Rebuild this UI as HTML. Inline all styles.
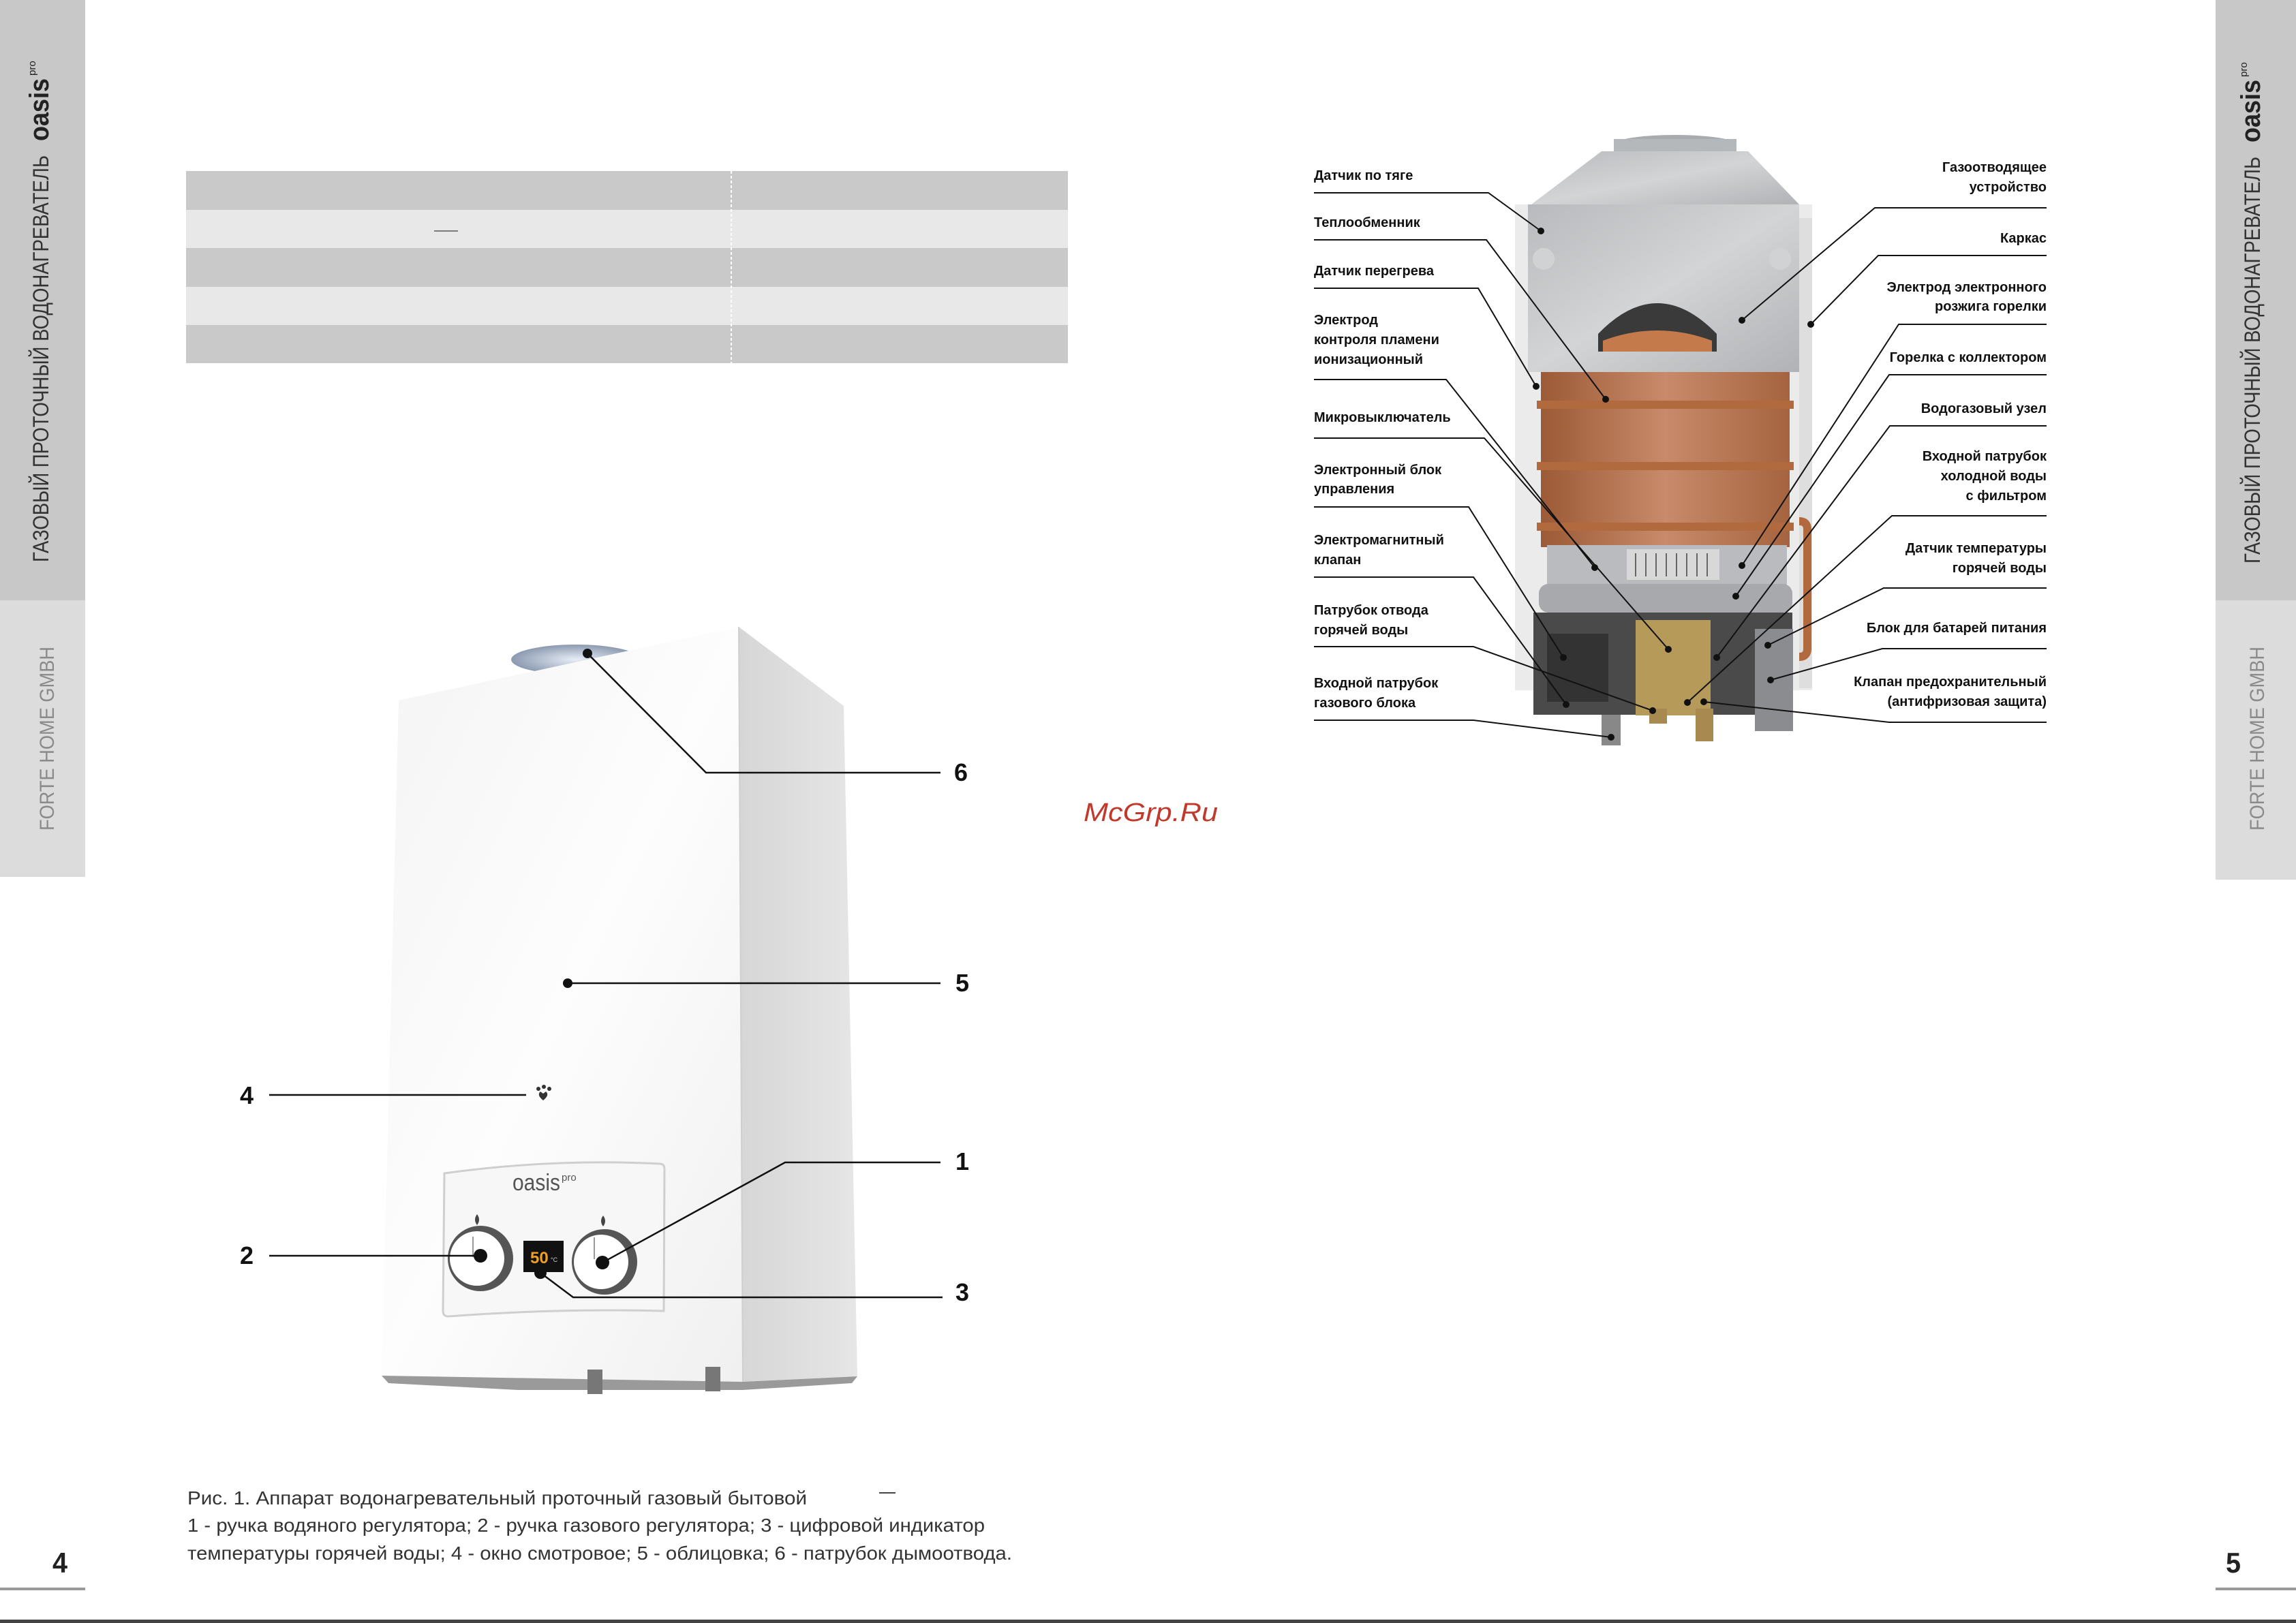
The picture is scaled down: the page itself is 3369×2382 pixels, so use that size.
<!DOCTYPE html>
<html><head><meta charset="utf-8"><style>
html,body{margin:0;padding:0;background:#fff}
svg{display:block}
</style></head><body>
<svg width="3369" height="2382" viewBox="0 0 3369 2382" xmlns="http://www.w3.org/2000/svg" font-family="'Liberation Sans','DejaVu Sans',sans-serif">
<defs>
<linearGradient id="front" x1="0" y1="0" x2="1" y2="1">
<stop offset="0" stop-color="#f4f4f4"/><stop offset="0.5" stop-color="#fdfdfd"/><stop offset="1" stop-color="#f0f0f0"/>
</linearGradient>
<linearGradient id="side" x1="0" y1="0" x2="1" y2="0">
<stop offset="0" stop-color="#d6d6d6"/><stop offset="1" stop-color="#e6e6e6"/>
</linearGradient>
<linearGradient id="copper" x1="0" y1="0" x2="1" y2="0">
<stop offset="0" stop-color="#9c5a36"/><stop offset="0.5" stop-color="#c88a6a"/><stop offset="1" stop-color="#a5643f"/>
</linearGradient>
<linearGradient id="steel" x1="0" y1="0" x2="1" y2="1">
<stop offset="0" stop-color="#b8babd"/><stop offset="0.5" stop-color="#d2d4d6"/><stop offset="1" stop-color="#b0b2b5"/>
</linearGradient>
<radialGradient id="flue" cx="0.5" cy="0.5" r="0.5">
<stop offset="0" stop-color="#e8eef8"/><stop offset="1" stop-color="#8c9ab0"/>
</radialGradient>
</defs>

<!-- sidebars -->
<rect x="0" y="0" width="125" height="881" fill="#c8c8c8"/>
<rect x="0" y="881" width="125" height="406" fill="#dcdcdc"/>
<rect x="3251" y="0" width="118" height="881" fill="#c8c8c8"/>
<rect x="3251" y="881" width="118" height="410" fill="#dcdcdc"/>

<g transform="rotate(-90 71 825)"><text x="71" y="825" font-size="32" fill="#333" textLength="597" lengthAdjust="spacingAndGlyphs">ГАЗОВЫЙ ПРОТОЧНЫЙ ВОДОНАГРЕВАТЕЛЬ</text>
<text x="689" y="825" font-size="40" font-weight="bold" fill="#222" textLength="92" lengthAdjust="spacingAndGlyphs">oasis</text>
<text x="785" y="806" font-size="15" fill="#222">pro</text></g>
<g transform="rotate(-90 79 1219)"><text x="79" y="1219" font-size="30" fill="#8a8a8a" textLength="270" lengthAdjust="spacingAndGlyphs">FORTE HOME GMBH</text></g>

<g transform="rotate(-90 3316 827)"><text x="3316" y="827" font-size="32" fill="#333" textLength="597" lengthAdjust="spacingAndGlyphs">ГАЗОВЫЙ ПРОТОЧНЫЙ ВОДОНАГРЕВАТЕЛЬ</text>
<text x="3934" y="827" font-size="40" font-weight="bold" fill="#222" textLength="92" lengthAdjust="spacingAndGlyphs">oasis</text>
<text x="4030" y="808" font-size="15" fill="#222">pro</text></g>
<g transform="rotate(-90 3322 1219)"><text x="3322" y="1219" font-size="30" fill="#8a8a8a" textLength="270" lengthAdjust="spacingAndGlyphs">FORTE HOME GMBH</text></g>

<!-- page numbers -->
<text x="77" y="2308" font-size="42" font-weight="bold" fill="#222" textLength="22" lengthAdjust="spacingAndGlyphs">4</text>
<rect x="0" y="2330" width="125" height="4" fill="#999"/>
<text x="3266" y="2308" font-size="42" font-weight="bold" fill="#222" textLength="22" lengthAdjust="spacingAndGlyphs">5</text>
<rect x="3251" y="2330" width="118" height="4" fill="#999"/>
<rect x="0" y="2377" width="3369" height="5" fill="#444"/>

<!-- table -->
<rect x="273" y="251" width="1294" height="57" fill="#c9c9c9"/>
<rect x="273" y="308" width="1294" height="56" fill="#e8e8e8"/>
<rect x="273" y="364" width="1294" height="57" fill="#c9c9c9"/>
<rect x="273" y="421" width="1294" height="56" fill="#e8e8e8"/>
<rect x="273" y="477" width="1294" height="56" fill="#c9c9c9"/>
<line x1="1073" y1="251" x2="1073" y2="533" stroke="#fff" stroke-width="2" stroke-dasharray="4,3"/>
<line x1="637" y1="339" x2="672" y2="339" stroke="#555" stroke-width="1.5"/>

<!-- heater front view -->
<ellipse cx="845" cy="968" rx="95" ry="22" fill="url(#flue)"/>
<polygon points="1084,920 1238,1036 1258,2020 1090,2028" fill="url(#side)"/>
<polygon points="585,1028 1084,920 1090,2028 560,2019" fill="url(#front)"/>
<polygon points="560,2019 1090,2028 1258,2020 1250,2030 1090,2040 760,2040 570,2030" fill="#9a9a9a"/>
<rect x="862" y="2010" width="22" height="36" fill="#777"/>
<rect x="1035" y="2006" width="22" height="36" fill="#777"/>
<line x1="1084" y1="920" x2="1090" y2="2028" stroke="#cfcfcf" stroke-width="2"/>

<!-- control panel -->
<path d="M652,1722 Q810,1700 968,1708 Q975,1708 975,1716 L974,1924 Q820,1920 658,1932 Q650,1932 650,1924 Z" fill="#f7f7f7" stroke="#cfcfcf" stroke-width="3"/>
<text x="752" y="1747" font-size="34" fill="#555" textLength="70" lengthAdjust="spacingAndGlyphs">oasis</text>
<text x="824" y="1733" font-size="15" fill="#555">pro</text>
<circle cx="705" cy="1847" r="48" fill="#555"/>
<circle cx="700" cy="1847" r="40" fill="#fff"/>
<line x1="694" y1="1815" x2="694" y2="1845" stroke="#999" stroke-width="2"/>
<circle cx="887" cy="1852" r="48" fill="#555"/>
<circle cx="882" cy="1852" r="40" fill="#fff"/>
<line x1="872" y1="1816" x2="872" y2="1848" stroke="#999" stroke-width="2"/>
<path d="M700,1798 q-6,-8 0,-16 q6,8 0,16z" fill="#444"/>
<path d="M885,1800 q-6,-8 0,-16 q6,8 0,16z" fill="#444"/>
<rect x="768" y="1821" width="59" height="46" fill="#111"/>
<text x="778" y="1854" font-size="24" font-weight="bold" fill="#f0a020">50</text>
<text x="808" y="1852" font-size="9" fill="#ccc">°C</text>

<!-- sight window icon -->
<circle cx="790" cy="1598" r="3" fill="#333"/><circle cx="798" cy="1595" r="3" fill="#333"/><circle cx="806" cy="1598" r="3" fill="#333"/>
<path d="M797,1615 q-10,-8 -4,-13 q4,3 4,3 q0,0 4,-3 q6,5 -4,13z" fill="#333"/>

<!-- callouts left -->
<g stroke="#111" stroke-width="2.5" fill="none">
<polyline points="862,959 1036,1134 1380,1134"/>
<line x1="833" y1="1443" x2="1380" y2="1443"/>
<line x1="395" y1="1607" x2="772" y2="1607"/>
<polyline points="884,1853 1152,1706 1380,1706"/>
<line x1="395" y1="1843" x2="705" y2="1843"/>
<polyline points="793,1868 841,1904 1383,1904"/>
</g>
<g fill="#111"><circle cx="862" cy="959" r="7"/><circle cx="833" cy="1443" r="7"/><circle cx="705" cy="1843" r="10"/><circle cx="884" cy="1853" r="10"/><circle cx="793" cy="1868" r="9"/></g>
<g font-size="36" font-weight="bold" fill="#111">
<text x="1400" y="1146">6</text>
<text x="1402" y="1455">5</text>
<text x="352" y="1620">4</text>
<text x="1402" y="1717">1</text>
<text x="352" y="1855">2</text>
<text x="1402" y="1909">3</text>
</g>

<!-- caption -->
<g font-size="28" fill="#333">
<text x="275" y="2208" textLength="909" lengthAdjust="spacingAndGlyphs">Рис. 1.  Аппарат водонагревательный проточный газовый бытовой</text>
<text x="275" y="2248" textLength="1170" lengthAdjust="spacingAndGlyphs">1 - ручка водяного регулятора; 2 - ручка газового регулятора; 3 - цифровой индикатор</text>
<text x="275" y="2289" textLength="1210" lengthAdjust="spacingAndGlyphs">температуры горячей воды; 4 - окно смотровое; 5 - облицовка; 6 - патрубок дымоотвода.</text>
</g>
<line x1="1290" y1="2191" x2="1314" y2="2191" stroke="#444" stroke-width="2"/>

<!-- watermark -->
<text x="1590" y="1205" font-size="38" font-style="italic" fill="#c0392b" textLength="197" lengthAdjust="spacingAndGlyphs">McGrp.Ru</text>

<!-- heater internals -->
<rect x="2223" y="300" width="436" height="713" fill="#ebebeb"/>
<rect x="2640" y="320" width="19" height="690" fill="#dedede"/>
<ellipse cx="2458" cy="212" rx="90" ry="14" fill="#a9acaf"/>
<rect x="2368" y="204" width="180" height="20" fill="#b5b8bb"/>
<polygon points="2350,222 2565,222 2640,300 2247,300" fill="url(#steel)"/>
<rect x="2242" y="300" width="398" height="246" fill="url(#steel)"/>
<path d="M2345,516 L2345,490 Q2432,400 2519,490 L2519,516 Z" fill="#3a3a3a"/>
<path d="M2352,516 L2352,500 Q2432,470 2512,500 L2512,516 Z" fill="#c47a4a"/>
<circle cx="2265" cy="380" r="16" fill="#d0d2d4"/><circle cx="2612" cy="380" r="16" fill="#d0d2d4"/>
<rect x="2261" y="546" width="365" height="257" fill="url(#copper)"/>
<g stroke="#b06a3e" stroke-width="12" fill="none">
<line x1="2255" y1="594" x2="2632" y2="594"/><line x1="2255" y1="684" x2="2632" y2="684"/><line x1="2255" y1="773" x2="2632" y2="773"/>
</g>
<path d="M2640,765 q12,0 12,12 l0,175 q0,12 -12,12" stroke="#b06a3e" stroke-width="12" fill="none"/>
<rect x="2270" y="800" width="352" height="70" fill="#b9bbbe"/>
<rect x="2387" y="806" width="136" height="45" fill="#d8d8d8"/>
<g stroke="#666" stroke-width="2"><line x1="2400" y1="812" x2="2400" y2="846"/><line x1="2415" y1="812" x2="2415" y2="846"/><line x1="2430" y1="812" x2="2430" y2="846"/><line x1="2445" y1="812" x2="2445" y2="846"/><line x1="2460" y1="812" x2="2460" y2="846"/><line x1="2475" y1="812" x2="2475" y2="846"/><line x1="2490" y1="812" x2="2490" y2="846"/><line x1="2505" y1="812" x2="2505" y2="846"/></g>
<rect x="2258" y="857" width="372" height="42" rx="14" fill="#a7a9ac"/>
<rect x="2250" y="899" width="380" height="150" fill="#4a4a4a"/>
<rect x="2400" y="910" width="110" height="140" fill="#b59a5a"/>
<rect x="2575" y="923" width="56" height="150" fill="#8a8c8f"/>
<rect x="2270" y="930" width="90" height="100" fill="#333"/>
<rect x="2350" y="1049" width="28" height="45" fill="#888"/>
<rect x="2420" y="1040" width="26" height="22" fill="#a88a50"/>
<rect x="2488" y="1040" width="26" height="48" fill="#a88a50"/>

<!-- callouts right page -->
<g stroke="#111" stroke-width="2" fill="none">
<polyline points="1928,283 2184,283 2261,339"/>
<polyline points="1928,352 2181,352 2356,586"/>
<polyline points="1928,423 2169,423 2254,567"/>
<polyline points="1928,557 2122,557 2340,833"/>
<polyline points="1928,643 2178,643 2448,953"/>
<polyline points="1928,744 2155,744 2294,965"/>
<polyline points="1928,847 2162,847 2298,1034"/>
<polyline points="1928,949 2162,949 2425,1043"/>
<polyline points="1928,1057 2162,1057 2364,1082"/>
<polyline points="3003,305 2751,305 2556,470"/>
<polyline points="3003,375 2756,375 2657,476"/>
<polyline points="3003,476 2786,476 2556,830"/>
<polyline points="3003,550 2772,550 2547,875"/>
<polyline points="3003,625 2773,625 2519,965"/>
<polyline points="3003,757 2776,757 2476,1031"/>
<polyline points="3003,863 2764,863 2594,947"/>
<polyline points="3003,952 2762,952 2598,998"/>
<polyline points="3003,1060 2772,1060 2500,1030"/>
</g>
<g fill="#111">
<circle cx="2261" cy="339" r="5"/><circle cx="2356" cy="586" r="5"/><circle cx="2254" cy="567" r="5"/><circle cx="2340" cy="833" r="5"/><circle cx="2448" cy="953" r="5"/><circle cx="2294" cy="965" r="5"/><circle cx="2298" cy="1034" r="5"/><circle cx="2425" cy="1043" r="5"/><circle cx="2364" cy="1082" r="5"/>
<circle cx="2556" cy="470" r="5"/><circle cx="2657" cy="476" r="5"/><circle cx="2556" cy="830" r="5"/><circle cx="2547" cy="875" r="5"/><circle cx="2519" cy="965" r="5"/><circle cx="2476" cy="1031" r="5"/><circle cx="2594" cy="947" r="5"/><circle cx="2598" cy="998" r="5"/><circle cx="2500" cy="1030" r="5"/>
</g>
<g font-size="20" font-weight="bold" fill="#111">
<text x="1928" y="264">Датчик по тяге</text>
<text x="1928" y="333">Теплообменник</text>
<text x="1928" y="404">Датчик перегрева</text>
<text x="1928" y="476">Электрод</text>
<text x="1928" y="505">контроля пламени</text>
<text x="1928" y="534">ионизационный</text>
<text x="1928" y="619">Микровыключатель</text>
<text x="1928" y="696">Электронный блок</text>
<text x="1928" y="724">управления</text>
<text x="1928" y="799">Электромагнитный</text>
<text x="1928" y="828">клапан</text>
<text x="1928" y="902">Патрубок отвода</text>
<text x="1928" y="931">горячей воды</text>
<text x="1928" y="1009">Входной патрубок</text>
<text x="1928" y="1038">газового блока</text>
</g>
<g font-size="20" font-weight="bold" fill="#111" text-anchor="end">
<text x="3003" y="252">Газоотводящее</text>
<text x="3003" y="281">устройство</text>
<text x="3003" y="356">Каркас</text>
<text x="3003" y="428">Электрод электронного</text>
<text x="3003" y="456">розжига горелки</text>
<text x="3003" y="531">Горелка с коллектором</text>
<text x="3003" y="606">Водогазовый узел</text>
<text x="3003" y="676">Входной патрубок</text>
<text x="3003" y="705">холодной воды</text>
<text x="3003" y="734">с фильтром</text>
<text x="3003" y="811">Датчик температуры</text>
<text x="3003" y="840">горячей воды</text>
<text x="3003" y="928">Блок для батарей питания</text>
<text x="3003" y="1007">Клапан предохранительный</text>
<text x="3003" y="1036">(антифризовая защита)</text>
</g>
</svg>
</body></html>
